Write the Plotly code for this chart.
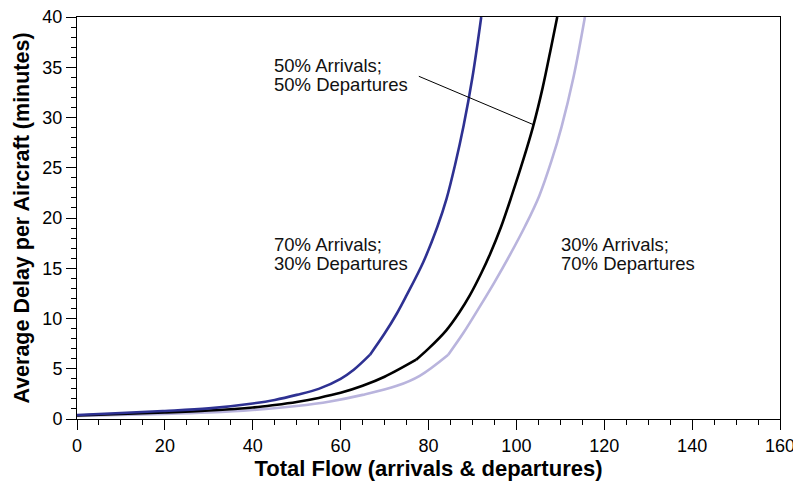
import plotly.graph_objects as go

# Delay curves for three arrival/departure mixes
flow_70_30 = [0, 10, 20, 30, 40, 45, 50, 55, 60, 63, 66.7, 70, 72.8, 75, 78.8, 82, 84.1, 86, 88, 90, 92]
delay_70_30 = [0.4, 0.6, 0.8, 1.06, 1.55, 1.9, 2.4, 3.0, 4.0, 4.9, 6.4, 8.5, 10.5, 12.3, 15.6, 19.1, 21.9, 25.2, 29.2, 34, 40]

flow_50_50 = [0, 10, 20, 30, 40, 45, 50, 55, 60, 65, 70, 77.2, 80, 84, 87, 89.4, 92, 94, 96.5, 99, 101.5, 103.8, 106, 108, 109.3]
delay_50_50 = [0.35, 0.5, 0.65, 0.85, 1.15, 1.4, 1.7, 2.1, 2.6, 3.3, 4.2, 5.9, 7.0, 8.8, 10.6, 12.3, 14.5, 16.4, 19.1, 22.3, 25.7, 29.1, 33, 37.2, 40]

flow_30_70 = [0, 10, 20, 30, 40, 50, 57.6, 65, 72.8, 78, 84.5, 88, 91.7, 95, 98.5, 102, 105.2, 108, 110.3, 113, 115.6]
delay_30_70 = [0.3, 0.4, 0.5, 0.65, 0.9, 1.3, 1.75, 2.4, 3.3, 4.3, 6.4, 8.6, 11.2, 13.6, 16.3, 19.2, 22.2, 25.7, 29.1, 34, 40]

# flow value where each curve changes regime (visible corner)
kink_70_30 = 66.7
kink_50_50 = 77.2
kink_30_70 = 84.5

# curve labels: (first line, second line, x, y of first line, y of second line)
curve_labels = [
    ("50% Arrivals;", "50% Departures", 44.3, 35.17, 33.28),
    ("70% Arrivals;", "30% Departures", 44.3, 17.41, 15.52),
    ("30% Arrivals;", "70% Departures", 109.6, 17.41, 15.52),
]

x_ticks = [0, 20, 40, 60, 80, 100, 120, 140, 160]
y_ticks = [0, 5, 10, 15, 20, 25, 30, 35, 40]

FONT = "Liberation Sans, Arial, sans-serif"

fig = go.Figure()


def add_curve(xs, ys, kink, color):
    k = xs.index(kink)
    for seg_x, seg_y in ((xs[:k + 1], ys[:k + 1]), (xs[k:], ys[k:])):
        fig.add_trace(go.Scatter(x=seg_x, y=seg_y, mode="lines",
                                 line=dict(color=color, width=2.6, shape="spline", smoothing=1.0),
                                 hoverinfo="x+y"))


add_curve(flow_30_70, delay_30_70, kink_30_70, "#b9b4dd")
add_curve(flow_50_50, delay_50_50, kink_50_50, "#000000")
add_curve(flow_70_30, delay_70_30, kink_70_30, "#2e3192")

# leader line from the 50/50 label to its curve
fig.add_shape(type="line", x0=77.8, y0=34.1, x1=103.8, y1=29.3,
              line=dict(color="#000000", width=1), xref="x", yref="y")

label_font = dict(family=FONT, size=18.5, color="#111111")
for line1, line2, xv, y1, y2 in curve_labels:
    for text, yv in ((line1, y1), (line2, y2)):
        fig.add_annotation(x=xv, y=yv, xref="x", yref="y", text=text, showarrow=False,
                           xanchor="left", yanchor="middle", align="left", font=label_font)

axis_common = dict(showline=True, linecolor="#000000", linewidth=1, mirror=True,
                   ticks="outside", ticklen=10, tickwidth=1, tickcolor="#000000",
                   showgrid=False, zeroline=False, ticklabeloverflow="allow",
                   automargin=False,
                   tickfont=dict(family=FONT, size=18, color="#000000"))

fig.update_xaxes(range=[0, 160], tickvals=x_ticks,
                 minor=dict(dtick=5, ticks="outside", ticklen=5, tickcolor="#000000"),
                 title=dict(text="<b>Total Flow (arrivals & departures)</b>",
                            font=dict(family=FONT, size=22, color="#000000"), standoff=6),
                 **axis_common)
fig.update_yaxes(range=[0, 40], tickvals=y_ticks,
                 minor=dict(dtick=1, ticks="outside", ticklen=5, tickcolor="#000000"),
                 title=dict(text="<b>Average Delay per Aircraft (minutes)</b>",
                            font=dict(family=FONT, size=21.5, color="#000000"), standoff=6),
                 **axis_common)

fig.update_layout(width=793, height=484, showlegend=False,
                  margin=dict(l=77, r=13, t=17, b=65),
                  plot_bgcolor="white", paper_bgcolor="white")

fig.write_html("out.html")
